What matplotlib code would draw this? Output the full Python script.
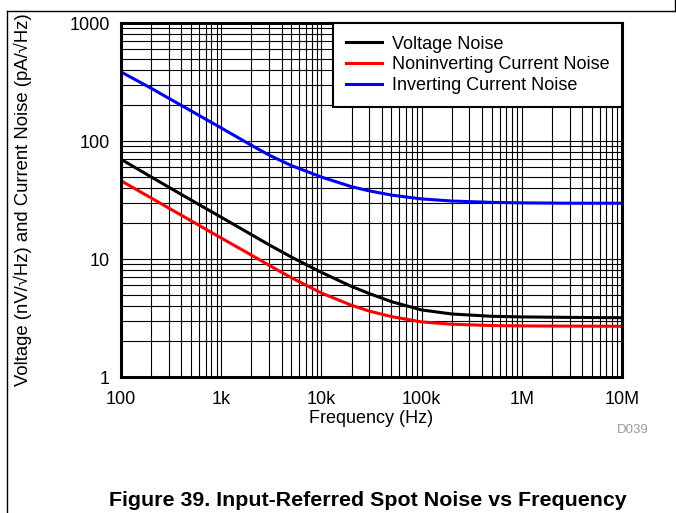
import numpy as np
import matplotlib
matplotlib.use("Agg")
import matplotlib.pyplot as plt
import matplotlib.ticker as ticker
from matplotlib.lines import Line2D

plt.rcParams['font.family'] = ['Liberation Sans', 'DejaVu Sans']

# values
freq = [100, 200, 300, 500, 1e3, 2e3, 3e3, 5e3, 1e4, 2e4, 3e4, 5e4,
        1e5, 2e5, 5e5, 1e6, 3e6, 1e7]
voltage_noise = [70, 49.6, 40.6, 31.6, 22.6, 16.1, 13.2, 10.4, 7.7, 5.85, 5.1, 4.35,
                 3.7, 3.42, 3.27, 3.23, 3.2, 3.18]
noninv_current = [46, 32.9, 27.0, 21.1, 15.06, 10.8, 8.85, 6.95, 5.15, 4.05, 3.62, 3.25,
                  2.93, 2.8, 2.73, 2.71, 2.7, 2.69]
inv_current = [385, 280, 230, 180, 129, 92, 76, 62, 49.5, 41, 37.8, 34.8,
               32.3, 31, 30.2, 29.9, 29.7, 29.7]

series_names = ["Voltage Noise", "Noninverting Current Noise", "Inverting Current Noise"]
series_colors = ["black", "#ff0000", "#0000ff"]

xtick_vals = [1e2, 1e3, 1e4, 1e5, 1e6, 1e7]
xtick_labels = ["100", "1k", "10k", "100k", "1M", "10M"]
ytick_vals = [1, 10, 100, 1000]
ytick_labels = ["1", "10", "100", "1000"]

W, H = 676, 513
fig = plt.figure(figsize=(W / 100, H / 100), dpi=100)
ax = fig.add_axes([121 / W, 1 - 377 / H, 501 / W, 354 / H])

for vals, name, col in zip([voltage_noise, noninv_current, inv_current], series_names, series_colors):
    ax.plot(freq, vals, color=col, lw=2.2, label=name, zorder=3)

ax.set_xscale('log')
ax.set_yscale('log')
ax.set_xlim(100, 1e7)
ax.set_ylim(1, 1000)
ax.set_xticks(xtick_vals, xtick_labels)
ax.set_yticks(ytick_vals, ytick_labels)
ax.xaxis.set_minor_locator(ticker.LogLocator(base=10, subs=np.arange(2, 10), numticks=20))
ax.yaxis.set_minor_locator(ticker.LogLocator(base=10, subs=np.arange(2, 10), numticks=20))
ax.xaxis.set_minor_formatter(ticker.NullFormatter())
ax.yaxis.set_minor_formatter(ticker.NullFormatter())
ax.tick_params(which='both', length=0, labelsize=13)
ax.tick_params(axis='x', pad=10)
ax.tick_params(axis='y', pad=8)
ax.grid(which='both', color='black', lw=0.8)
for sp in ax.spines.values():
    sp.set_linewidth(2.2)
    sp.set_zorder(4)

ax.set_xlabel("Frequency (Hz)", fontsize=13)
ax.set_ylabel("Voltage (nV/\u221aHz) and Current Noise (pA/\u221aHz)", fontsize=13.3)
ax.xaxis.set_label_coords(0.5, -0.093)
ax.yaxis.set_label_coords(-0.178, 0.5)

leg = ax.legend(loc='upper right', bbox_to_anchor=(1, 1), borderaxespad=0,
                fontsize=13, fancybox=False, framealpha=1, edgecolor='black',
                handlelength=2.0, handletextpad=0.55, labelspacing=0.21,
                borderpad=0.7)
leg.get_frame().set_linewidth(1.5)
leg.set_zorder(5)

fig.text(649 / W, 1 - 433 / H, "D039", ha='right', va='baseline', fontsize=9.5, color='#999999')
fig.text(368 / W, 1 - 506 / H, "Figure 39. Input-Referred Spot Noise vs Frequency",
         ha='center', va='baseline', fontsize=15.4, fontweight='bold')

# page frame lines
fig.add_artist(Line2D([7 / W, 7 / W], [0, 1 - 11 / H], color='black', lw=1))
fig.add_artist(Line2D([7 / W, 1], [1 - 11 / H, 1 - 11 / H], color='black', lw=1))
fig.add_artist(Line2D([675 / W, 675 / W], [1 - 11 / H, 1], color='black', lw=1))

fig.savefig("out.png", dpi=100)
